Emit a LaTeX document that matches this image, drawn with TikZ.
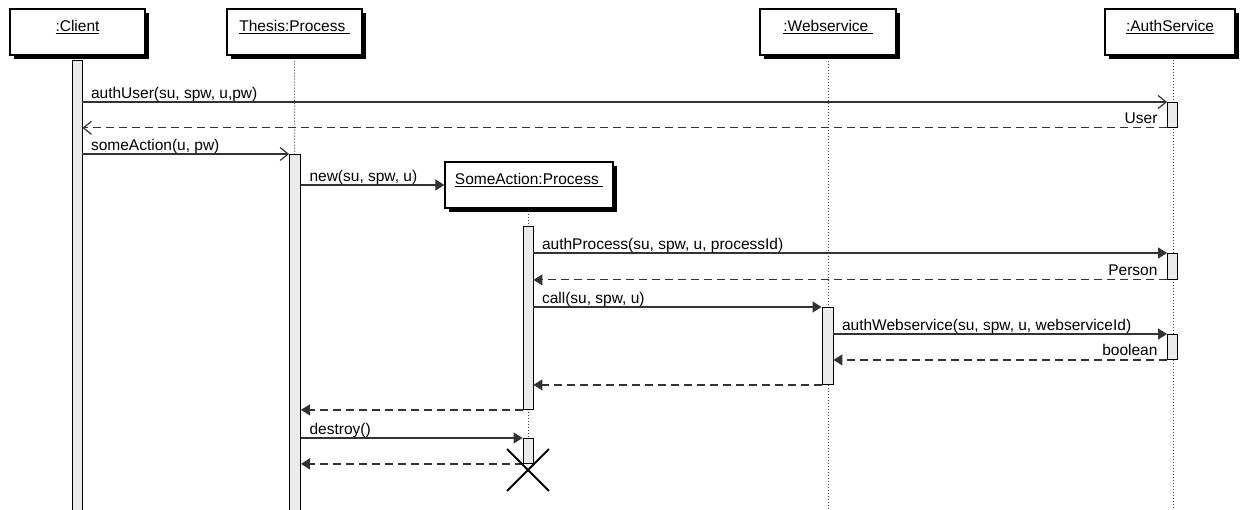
\documentclass[tikz,border=0pt]{standalone}
\usepackage{fontspec}
\setmainfont{Liberation Sans}
\usetikzlibrary{arrows.meta,shadows,shapes.misc}

\begin{document}
\begin{tikzpicture}[x=1pt,y=-1pt,
  font=\fontsize{15.5}{18}\selectfont,
  object/.style={draw=black, line width=1.3pt, fill=white,
    minimum height=46pt, text height=11.5pt, text depth=11.5pt,
    inner ysep=11.5pt, inner xsep=0pt,
    drop shadow={shadow xshift=4pt, shadow yshift=-4pt, opacity=1, fill=black}},
  bar/.style={draw=black, line width=0.9pt, fill=black!8, minimum width=10pt,
    inner sep=0pt, anchor=north},
  lifeline/.style={line width=0.9pt, black!75, dash pattern=on 1pt off 2pt},
  msg/.style={line width=1.2pt, black!80},
  sync/.style={msg, -{Triangle[length=9pt,width=11pt]}},
  open/.style={msg, -{Straight Barb[length=8pt,width=13pt]}},
  reply/.style={msg, dash pattern=on 8pt off 5pt, -{Triangle[length=9pt,width=11pt]}},
  openreply/.style={msg, dash pattern=on 8pt off 5pt, -{Straight Barb[length=8pt,width=13pt]}},
  call label/.style={pos=0, anchor=base west, xshift=8pt, yshift=3.5pt, text=black, inner sep=0pt},
  reply label/.style={pos=0, anchor=base east, xshift=-9pt, yshift=4pt, text=black, inner sep=0pt},
]
\useasboundingbox (0,0) rectangle (1241,510);

% participants
\node[object, minimum width=135pt] (client) at (77.5,32) {\underline{:Client}};
\node[object, minimum width=135pt] (thesis) at (294.5,32) {\underline{Thesis:Process\ }};
\node[object, minimum width=136pt] (web) at (828,32) {\underline{:Webservice\ }};
\node[object, minimum width=130pt] (auth) at (1170,32) {\underline{:AuthService}};
\node[object, minimum width=168pt] (some) at (529,185) {\underline{SomeAction:Process\ }};

% lifelines
\coordinate (thesisEnd) at (295,515);
\coordinate (webEnd) at (828,515);
\coordinate (authTop) at (1173,60);
\coordinate (authEnd) at (1173,515);
\coordinate (someEnd) at (528,438);
\draw[lifeline] ([yshift=-5pt]thesis.south) -- (thesisEnd);
\draw[lifeline] ([yshift=-5pt]web.south) -- (webEnd);
\draw[lifeline] (authTop) -- (authEnd);
\draw[lifeline] ([xshift=-1pt,yshift=-5pt]some.south) -- (someEnd);

% activation bars
\node[bar, minimum height=455pt] (cb) at (77,60) {};
\node[bar, minimum width=11pt, minimum height=361pt] (tb) at (295,154) {};
\node[bar, minimum height=25pt] (ab1) at (1172.5,102) {};
\node[bar, minimum height=26pt] (ab2) at (1172.5,253) {};
\node[bar, minimum height=25pt] (ab3) at (1172.5,334) {};
\node[bar, minimum height=183pt] (sb1) at (528,226) {};
\node[bar, minimum height=25pt] (sb2) at (528,438) {};
\node[bar, minimum width=11pt, minimum height=77pt] (wb) at (827.5,307) {};

% messages
\draw[open] (cb.east |- ab1.north) -- (ab1.north west)
  node[call label] {authUser(su, spw, u,pw)};
\draw[openreply] (ab1.south west) -- (cb.east |- ab1.south)
  node[reply label] {User};
\draw[open] (cb.east |- tb.north) -- (tb.north west)
  node[call label] {someAction(u, pw)};
\draw[sync] (tb.east |- some.west) -- (some.west)
  node[call label] {new(su, spw, u)};
\draw[sync] (sb1.east |- ab2.north) -- (ab2.north west)
  node[call label] {authProcess(su, spw, u, processId)};
\draw[reply] (ab2.south west) -- (sb1.east |- ab2.south)
  node[reply label] {Person};
\draw[sync] (sb1.east |- wb.north) -- (wb.north west)
  node[call label] {call(su, spw, u)};
\draw[sync] (wb.east |- ab3.north) -- (ab3.north west)
  node[call label] {authWebservice(su, spw, u, webserviceId)};
\draw[reply] (ab3.south west) -- (wb.east |- ab3.south)
  node[reply label] {boolean};
\draw[reply] (wb.south west) -- (sb1.east |- wb.south);
\draw[reply] (sb1.south west) -- (tb.east |- sb1.south);
\draw[sync] (tb.east |- sb2.north) -- (sb2.north west)
  node[call label] {destroy()};
\draw[reply] (sb2.south west) -- (tb.east |- sb2.south);

% destruction of SomeAction:Process
\node[cross out, draw=black, line width=1.8pt, minimum size=40pt, inner sep=0pt] (kill) at (528,470) {};
\end{tikzpicture}
\end{document}
